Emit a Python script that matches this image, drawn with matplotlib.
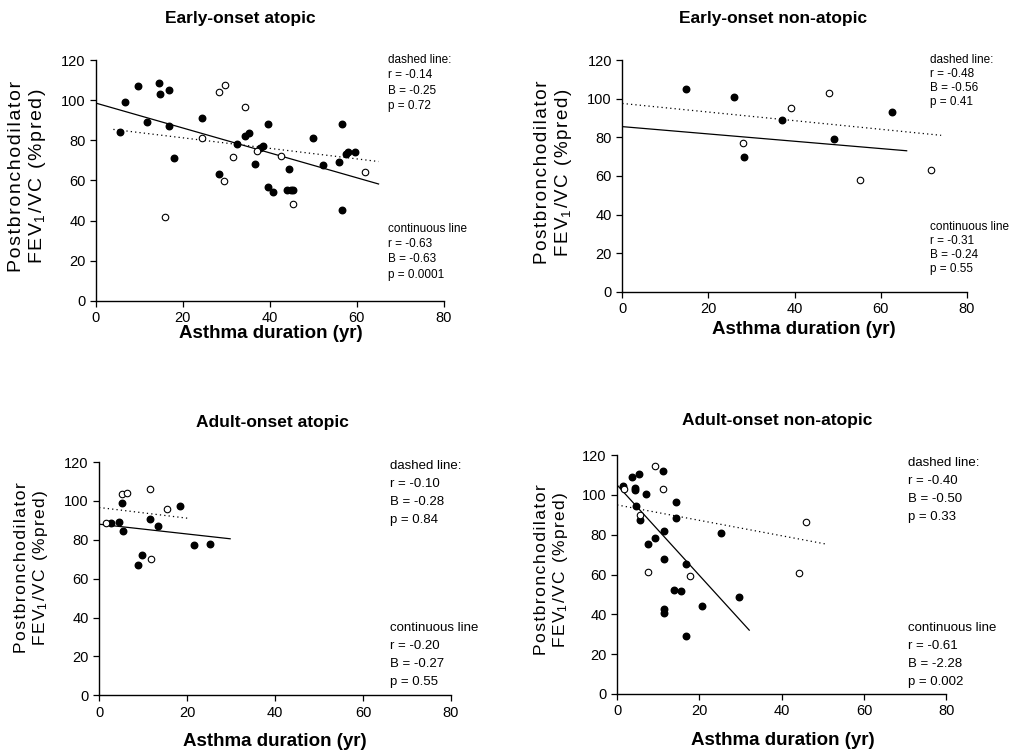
import matplotlib.pyplot as plt

plt.rcParams['font.family'] = ['Liberation Sans', 'DejaVu Sans']
plt.rcParams['mathtext.fontset'] = 'custom'
plt.rcParams['mathtext.rm'] = 'Liberation Sans'
plt.rcParams['mathtext.it'] = 'Liberation Sans:italic'

#---    Early-onset atopic
ea_filled_x = [5.6, 6.7, 9.7, 11.7, 14.6, 14.8, 16.7, 16.9, 17.9, 24.4, 28.4, 32.4, 34.3, 35.1, 36.6,
               37.8, 38.5, 39.5, 39.5, 40.7, 44.4, 44.0, 44.8, 45.4, 50.0, 52.3, 55.8, 56.6, 56.6,
               57.5, 58.0, 59.6]
ea_filled_y = [84, 99, 107, 89, 108.5, 103, 105, 87, 71, 91, 63, 78, 82, 83.5, 68,
               76, 77, 88, 56.5, 54, 65.5, 55, 55, 55, 81, 67.5, 69, 88, 45,
               73, 74, 74]
ea_open_x = [28.2, 29.7, 34.3, 24.4, 31.5, 15.9, 37.0, 42.6, 45.4, 61.9, 29.5]
ea_open_y = [104, 107.5, 96.5, 81, 71.5, 41.5, 74.5, 72, 48, 64, 59.5]
ea_dash_x, ea_dash_y = [4, 65], [85.4, 69.4]
ea_cont_x, ea_cont_y = [0, 65], [98.5, 58.2]
ea_stats = [['r = -0.14', 'B = -0.25', 'p = 0.72'], ['r = -0.63', 'B = -0.63', 'p = 0.0001']]

#---    Early-onset non-atopic
en_filled_x = [14.7, 25.9, 37.1, 62.5, 28.2, 49.1]
en_filled_y = [105, 101, 89, 93, 70, 79]
en_open_x = [48.0, 39.1, 28.0, 55.2, 71.6]
en_open_y = [103, 95, 77, 58, 63]
en_dash_x, en_dash_y = [0, 74], [97.5, 81]
en_cont_x, en_cont_y = [0, 66], [85.5, 73]
en_stats = [['r = -0.48', 'B = -0.56', 'p = 0.41'], ['r = -0.31', 'B = -0.24', 'p = 0.55']]

#---    Adult-onset atopic
aa_filled_x = [2.8, 4.5, 5.3, 5.5, 11.6, 13.5, 18.3, 8.8, 9.7, 21.5, 25.3]
aa_filled_y = [88.8, 89, 99, 84.7, 90.5, 87, 97.5, 67, 72, 77.5, 78]
aa_open_x = [1.5, 5.3, 6.3, 11.6, 15.4, 11.8]
aa_open_y = [88.8, 103.4, 104, 106, 95.6, 70]
aa_dash_x, aa_dash_y = [0, 20.4], [96.6, 91]
aa_cont_x, aa_cont_y = [0, 29.8], [88, 80.5]
aa_stats = [['r = -0.10', 'B = -0.28', 'p = 0.84'], ['r = -0.20', 'B = -0.27', 'p = 0.55']]

#---    Adult-onset non-atopic
an_filled_x = [1.4, 3.5, 5.3, 4.3, 4.3, 7.1, 11.1, 4.5, 5.6, 14.3, 14.3, 11.3, 9.3, 7.5, 11.3,
               16.7, 13.7, 15.5, 11.5, 11.5, 20.6, 16.7, 25.3, 29.6]
an_filled_y = [104.5, 109, 110.7, 103.5, 102.3, 100.6, 112, 94.7, 87.6, 96.7, 88.5, 82, 78.2, 75.3, 67.7,
               65.5, 52.2, 51.7, 42.4, 40.4, 44.1, 28.9, 80.7, 48.7]
an_open_x = [1.6, 9.1, 11.1, 5.6, 7.5, 17.7, 44.2, 46.0]
an_open_y = [102.8, 114.4, 102.8, 90, 61.3, 59.3, 61, 86.3]
an_dash_x, an_dash_y = [0, 50.8], [95, 75.3]
an_cont_x, an_cont_y = [0, 32.1], [105, 32]
an_stats = [['r = -0.40', 'B = -0.50', 'p = 0.33'], ['r = -0.61', 'B = -2.28', 'p = 0.002']]

titles = ['Early-onset atopic', 'Early-onset non-atopic', 'Adult-onset atopic', 'Adult-onset non-atopic']
x_ticks = [0, 20, 40, 60, 80]
y_ticks = [0, 20, 40, 60, 80, 100, 120]

panels = [
    (ea_filled_x, ea_filled_y, ea_open_x, ea_open_y, ea_dash_x, ea_dash_y, ea_cont_x, ea_cont_y, ea_stats),
    (en_filled_x, en_filled_y, en_open_x, en_open_y, en_dash_x, en_dash_y, en_cont_x, en_cont_y, en_stats),
    (aa_filled_x, aa_filled_y, aa_open_x, aa_open_y, aa_dash_x, aa_dash_y, aa_cont_x, aa_cont_y, aa_stats),
    (an_filled_x, an_filled_y, an_open_x, an_open_y, an_dash_x, an_dash_y, an_cont_x, an_cont_y, an_stats),
]


def spaced(s):
    # loose letter spacing, like the scanned original
    return '\u200a'.join(s)


ylab = spaced('Postbronchodilator') + '\n' + spaced('FEV') + '$_1$' + '\u200a' + spaced('/VC (%pred)')

#---    Layout (figure fractions) and text placement
boxes = [[0.093, 0.599, 0.337, 0.321],
         [0.603, 0.611, 0.334, 0.309],
         [0.096, 0.073, 0.341, 0.311],
         [0.598, 0.075, 0.319, 0.318]]
title_xy = [(0.233, 0.976), (0.749, 0.976), (0.264, 0.436), (0.753, 0.440)]
xlab_xy = [(0.262, 0.555), (0.779, 0.560), (0.266, 0.011), (0.759, 0.013)]
ylab_xy = [(0.027, 0.765), (0.537, 0.770), (0.031, 0.243), (0.535, 0.240)]
ylab_size = [14, 13.5, 12.5, 12.5]
note_x = [0.839, 0.893, 0.827, 0.885]
note_top = [(1.0, 0.30), (1.0, 0.28), (0.983, 0.288), (0.967, 0.276)]
note_dy = [0.064, 0.06, 0.077, 0.075]
note_size = [8.5, 8.5, 9.5, 9.5]

fig = plt.figure(figsize=(10.32, 7.5), dpi=100)

for i, (fx, fy, ox, oy, dx, dy, cx, cy, st) in enumerate(panels):
    ax = fig.add_axes(boxes[i])
    ax.plot(dx, dy, color='black', linewidth=0.9, linestyle=(0, (1, 2.5)))
    ax.plot(cx, cy, color='black', linewidth=0.9)
    ax.scatter(fx, fy, s=22, color='black', zorder=3, clip_on=False)
    ax.scatter(ox, oy, s=22, facecolor='white', edgecolor='black', linewidth=0.8, zorder=3, clip_on=False)

    ax.set_xlim(0, 80)
    ax.set_ylim(0, 120)
    ax.set_xticks(x_ticks)
    ax.set_yticks(y_ticks)
    ax.tick_params(labelsize=10.5, length=4, width=0.9, direction='out')
    for s in ['top', 'right']:
        ax.spines[s].set_visible(False)
    for s in ['left', 'bottom']:
        ax.spines[s].set_linewidth(1.0)

    # stats notes
    heads = ['dashed line:', 'continuous line']
    for k in range(2):
        y0 = note_top[i][k]
        ax.text(note_x[i], y0, heads[k], transform=ax.transAxes, fontsize=note_size[i], va='center', ha='left')
        for j, line in enumerate(st[k]):
            ax.text(note_x[i], y0 - (j + 1) * note_dy[i], line, transform=ax.transAxes,
                    fontsize=note_size[i], va='center', ha='left')

    fig.text(title_xy[i][0], title_xy[i][1], titles[i], fontsize=12.5, fontweight='bold', ha='center', va='center')
    fig.text(xlab_xy[i][0], xlab_xy[i][1], 'Asthma duration (yr)', fontsize=13.5, fontweight='bold',
             ha='center', va='center')
    fig.text(ylab_xy[i][0], ylab_xy[i][1], ylab, fontsize=ylab_size[i],
             rotation=90, ha='center', va='center', linespacing=1.1)

plt.savefig('out.png', dpi=100)
